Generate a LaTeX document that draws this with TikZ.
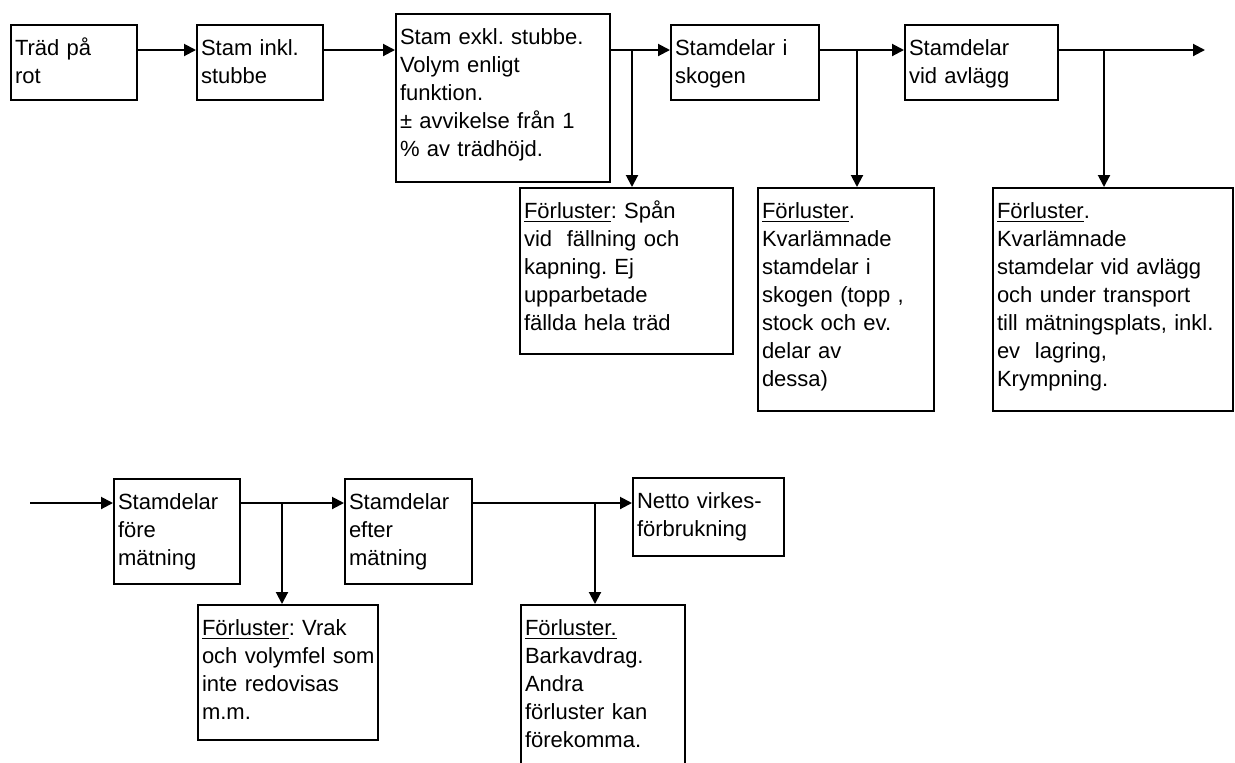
\documentclass[tikz,border=0pt]{standalone}
\usepackage{fontspec}
\setmainfont{Liberation Sans}
\usetikzlibrary{arrows.meta}
\frenchspacing

\begin{document}
\begin{tikzpicture}[
      x=0.5pt, y=-0.5pt,
      font=\fontsize{11}{14}\selectfont,
      box/.code 2 args={%
        \pgfmathsetlengthmacro\boxtw{#1-4pt}%
        \pgfmathsetlengthmacro\boxtd{#2-15pt}%
        \tikzset{draw, line width=1pt, anchor=north west, align=left,
                 inner xsep=2pt, inner ysep=0pt, text height=15pt,
                 text width/.expanded=\boxtw, text depth/.expanded=\boxtd}},
      flow/.style={-{Triangle[length=6pt, width=6pt]}, line width=1pt}
    ]
    \path[use as bounding box] (0,0) rectangle (1235,762);
    \clip (0,0) rectangle (1235,762);

    % rad 1
    \node[box={63pt}{37.5pt}] (trad) at (10,24) {Träd på\\rot};
    \node[box={63pt}{37.5pt}] (inkl) at (196,24) {Stam inkl.\\stubbe};
    \node[box={107pt}{84pt}] (exkl) at (395,13)
      {Stam exkl. stubbe.\\Volym enligt\\funktion.\\± avvikelse från 1\\\% av trädhöjd.};
    \node[box={74pt}{37.5pt}] (skog) at (670,24) {Stamdelar i\\skogen};
    \node[box={76.5pt}{37.5pt}] (avlagg) at (904,24) {Stamdelar\\vid avlägg};

    % förluster rad 1
    \node[box={106.5pt}{83pt}] (forl1) at (519,187)
      {\underline{Förluster}: Spån\\vid\ \ fällning och\\kapning. Ej\\upparbetade\\fällda hela träd};
    \node[box={88pt}{111.5pt}] (forl2) at (757,187)
      {\underline{Förluster}.\\Kvarlämnade\\stamdelar i\\skogen (topp ,\\stock och ev.\\delar av\\dessa)};
    \node[box={120pt}{111.5pt}] (forl3) at (992,187)
      {\underline{Förluster}.\\Kvarlämnade\\stamdelar vid avlägg\\och under transport\\till mätningsplats, inkl.\\ev\ \ lagring,\\Krympning.};

    % rad 2
    \node[box={63pt}{52.5pt}] (fore) at (113,478) {Stamdelar\\före\\mätning};
    \node[box={63.5pt}{52.5pt}] (efter) at (344,478) {Stamdelar\\efter\\mätning};
    \node[box={75.5pt}{39pt}] (netto) at (632,477) {Netto virkes-\\förbrukning};

    % förluster rad 2
    \node[box={90pt}{67.5pt}] (forl4) at (197,604)
      {\underline{Förluster}: Vrak\\\mbox{och volymfel som}\\inte redovisas\\m.m.};
    \node[box={82pt}{90pt}] (forl5) at (520,604)
      {\underline{Förluster.}\\Barkavdrag.\\Andra\\förluster kan\\förekomma.};

    % flödeslinjer och förgreningar
    \coordinate (rad1) at (0,50);
    \coordinate (rad2) at (0,503);
    \coordinate (ut) at (1205,50);
    \coordinate (in) at (30,503);
    \coordinate (g1) at (632,50);
    \coordinate (g2) at (857,50);
    \coordinate (g3) at (1104,50);
    \coordinate (g4) at (282,503);
    \coordinate (g5) at (595,503);

    \draw[flow] (trad.east |- rad1) -- (inkl.west |- rad1);
    \draw[flow] (inkl.east |- rad1) -- (exkl.west |- rad1);
    \draw[flow] (exkl.east |- rad1) -- (skog.west |- rad1);
    \draw[flow] (skog.east |- rad1) -- (avlagg.west |- rad1);
    \draw[flow] (avlagg.east |- rad1) -- (ut);
    \draw[flow] (g1) -- (g1 |- forl1.north);
    \draw[flow] (g2) -- (g2 |- forl2.north);
    \draw[flow] (g3) -- (g3 |- forl3.north);

    \draw[flow] (in) -- (fore.west |- rad2);
    \draw[flow] (fore.east |- rad2) -- (efter.west |- rad2);
    \draw[flow] (efter.east |- rad2) -- (netto.west |- rad2);
    \draw[flow] (g4) -- (g4 |- forl4.north);
    \draw[flow] (g5) -- (g5 |- forl5.north);
  \end{tikzpicture}
\end{document}
